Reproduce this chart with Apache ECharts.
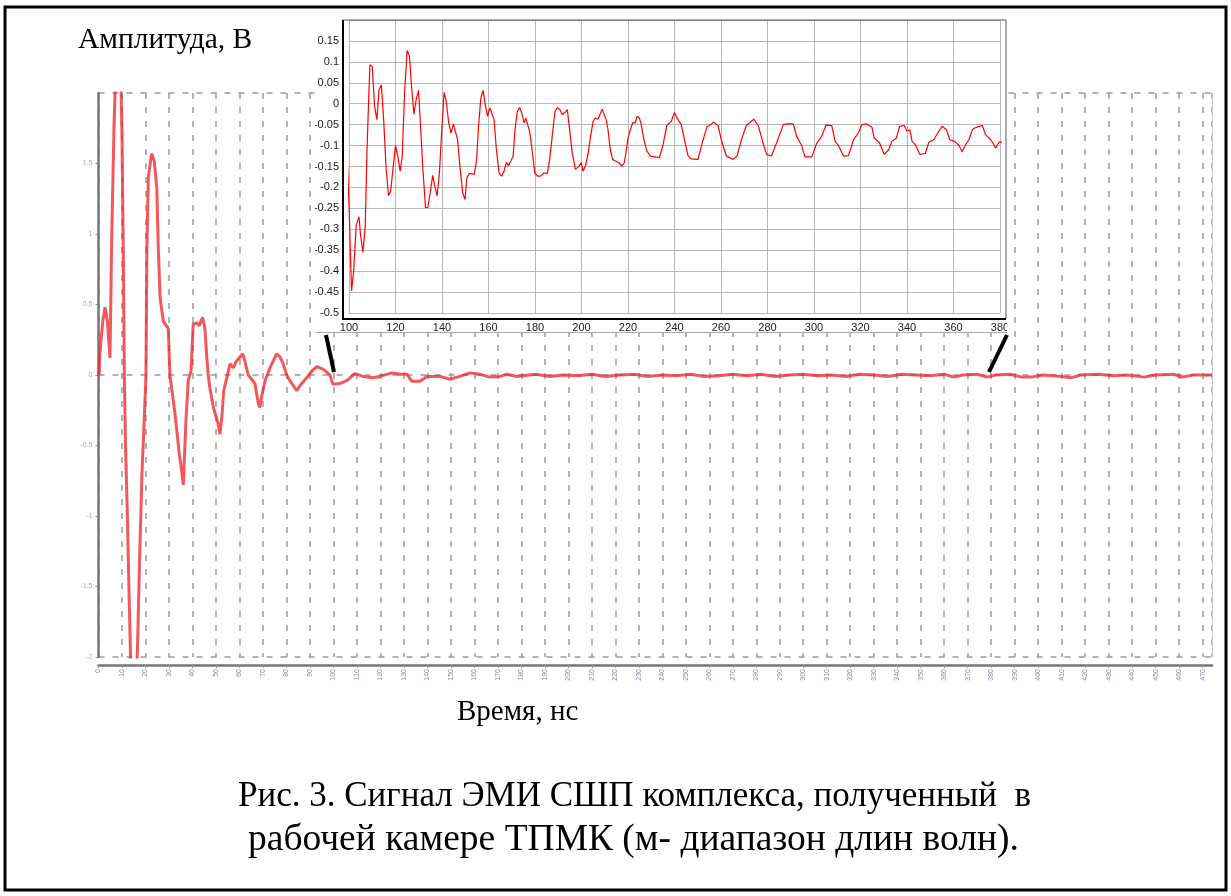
<!DOCTYPE html>
<html style="height:100%;width:100%;">
<head>
  <meta charset="utf-8">
  <title>Сигнал ЭМИ СШП</title>
  <script src="https://cdn.jsdelivr.net/npm/echarts@6.0.0/dist/echarts.min.js"></script>
</head>
<body style="margin:0px;background:#fff;">
  <div id="main" style="position:absolute;left:0;top:0;width:1231px;height:896px;"></div>
  <!-- врезка: увеличенный участок 100..380 нс -->
  <div id="inset" style="position:absolute;left:315px;top:18px;width:692px;height:315px;background:#fff;border-bottom:1px solid #aaa;box-sizing:border-box;"></div>
  <script type="text/javascript">
    // основной сигнал: [время, нс ; амплитуда]
    var mainSignal = [
      [0, 0], [0.3, 0.02], [0.6, 0.15], [1.8, 0.38], [2.8, 0.48], [3.8, 0.38], [4.9, 0.12],
      [5.6, 0.95], [6.6, 1.76], [7.4, 2.2], [8.4, 2.3], [9.4, 2.2], [10.0, 1.7], [10.6, 0.8],
      [11.0, 0], [11.5, -0.5], [12.3, -1.0], [12.8, -1.4], [13.5, -1.9], [14.0, -2.3], [15.5, -2.4],
      [16.3, -2.1], [16.8, -1.8], [17.5, -1.3], [18.5, -0.7], [19.5, -0.3], [20.2, 0], [20.6, 0.9],
      [21.2, 1.4], [22.6, 1.57], [23.7, 1.52], [24.8, 1.33], [25.4, 0.93], [26.2, 0.55], [27.6, 0.38],
      [29.7, 0.33], [30.4, 0], [32.6, -0.28], [34.4, -0.56], [35.4, -0.68], [36.1, -0.78], [37.2, -0.33],
      [38.2, -0.04], [39.4, 0.03], [40.3, 0.36], [41.8, 0.37], [42.9, 0.35], [44.3, 0.41], [45.3, 0.33],
      [46.0, 0.15], [46.7, 0], [47.4, -0.09], [48.9, -0.23], [51.0, -0.35], [51.7, -0.42], [52.6, -0.28],
      [53.3, -0.11], [54.6, -0.02], [56.0, 0.08], [57.4, 0.05], [58.8, 0.1], [61.4, 0.15], [62.3, 0.1],
      [63.7, 0], [66.6, -0.06], [68.0, -0.2], [68.7, -0.23], [69.4, -0.16], [70.9, -0.04], [73.0, 0.05],
      [75.8, 0.15], [77.2, 0.13], [78.6, 0.08], [80.1, 0], [81.5, -0.04], [84.3, -0.11], [86.5, -0.06],
      [88.6, -0.02], [90.9, 0.03], [92.9, 0.06], [95.7, 0.04], [98.5, 0], [99.8, -0.065], [102.8, -0.06],
      [105.7, -0.04], [109.1, 0.01], [112.6, -0.01], [116.8, -0.02], [119.8, -0.01], [124.9, 0.015],
      [128.3, 0.005], [131.3, 0.005], [133.4, -0.045], [136.8, -0.045], [139.8, -0.01], [145.3, -0.01],
      [149.6, -0.03], [153.8, -0.01], [158.1, 0.015], [162.3, 0.005], [166.6, -0.015], [170.9, -0.01],
      [173.8, 0.005], [178, -0.01], [186, 0.005], [192, -0.01], [198, 0], [204, -0.005], [210, 0.005],
      [216, -0.01], [222, 0], [228, 0.005], [234, -0.01], [240, 0], [246, -0.005], [252, 0.005],
      [258, -0.01], [264, -0.005], [270, 0.005], [276, -0.005], [282, 0.005], [288, -0.01], [294, 0],
      [300, 0.005], [306, -0.005], [312, 0], [318, -0.01], [324, 0.005], [330, 0], [336, -0.01],
      [342, 0.005], [348, 0], [354, -0.005], [360, 0.005], [364, -0.015], [368, 0], [374, 0.005],
      [378, -0.015], [382, 0], [388, 0.005], [393, -0.015], [397, -0.015], [402, 0], [410, -0.01],
      [414, -0.02], [418, 0], [426, 0.005], [432, -0.005], [438, 0], [445, -0.015], [450, 0],
      [458, 0.005], [461, -0.015], [466, 0], [474, 0]
    ];

    // врезка: [время, нс ; амплитуда, В]
    var insetSignal = [
      [97.7, 0.03], [98.1, 0.03], [98.9, -0.08], [100, -0.24], [101.1, -0.447], [102, -0.40],
      [103.1, -0.29], [104.3, -0.27], [104.9, -0.31], [106, -0.355], [107, -0.29], [107.7, -0.12],
      [108.4, 0], [109, 0.093], [110, 0.089], [111, -0.006], [112, -0.038], [112.9, 0.033],
      [113.9, 0.045], [114.9, -0.038], [116, -0.157], [117, -0.22], [117.9, -0.209], [118.9, -0.157],
      [120, -0.10], [121, -0.125], [122, -0.161], [122.9, -0.125], [123.9, 0.025], [125, 0.127],
      [126, 0.114], [126.9, 0.041], [127.9, -0.025], [128.9, 0.01], [129.9, 0.032], [130.7, -0.046],
      [131.7, -0.149], [132.9, -0.248], [133.9, -0.248], [134.9, -0.213], [136, -0.171], [137, -0.2],
      [137.9, -0.22], [138.9, -0.165], [139.9, -0.062], [140.9, 0.027], [141.7, 0.01], [142.9, -0.046],
      [143.9, -0.07], [144.9, -0.048], [145.7, -0.05], [146.7, -0.086], [147.7, -0.149], [148.9, -0.213],
      [149.9, -0.229], [150.7, -0.177], [151.7, -0.167], [152.7, -0.167], [153.9, -0.169], [154.9, -0.133],
      [155.7, -0.054], [156.7, 0.013], [157.7, 0.032], [158.6, -0.002], [159.6, -0.03], [160.6, -0.01],
      [161.4, -0.01], [162.4, -0.038], [163.4, -0.11], [164.6, -0.167], [165.7, -0.173], [166.7, -0.161],
      [167.7, -0.14], [168.6, -0.148], [169.6, -0.137], [170.6, -0.125], [171.4, -0.062], [172.4, -0.018],
      [173.4, -0.009], [174.3, -0.022], [175.3, -0.046], [176, -0.034], [176.7, -0.034], [177.7, -0.066],
      [178.9, -0.117], [179.9, -0.165], [181, -0.173], [182.4, -0.173], [183.9, -0.165], [185.3, -0.167],
      [186.3, -0.133], [187.4, -0.078], [188.6, -0.018], [189.6, -0.01], [190.6, -0.013], [191.7, -0.026],
      [192.9, -0.021], [193.9, -0.014], [194.9, -0.062], [196, -0.117], [197.4, -0.157], [198.9, -0.149],
      [199.9, -0.141], [200.6, -0.161], [201.7, -0.149], [202.9, -0.117], [203.9, -0.078], [205, -0.042],
      [206, -0.034], [207.1, -0.037], [207.9, -0.038], [208.9, -0.013], [209.6, -0.014], [210.6, -0.038],
      [211.4, -0.062], [212.4, -0.11], [213.4, -0.133], [214.6, -0.137], [216, -0.141], [217.4, -0.149],
      [218.4, -0.141], [219.1, -0.117], [220, -0.082], [221, -0.062], [222, -0.046], [223.1, -0.046],
      [223.9, -0.03], [224.9, -0.034], [225.7, -0.05], [226.7, -0.082], [228.1, -0.113], [229.6, -0.125],
      [230.4, -0.127], [233.5, -0.129], [235, -0.10], [236.7, -0.052], [238.6, -0.042], [240, -0.021],
      [241, -0.034], [242.9, -0.05], [244.3, -0.086], [245.8, -0.124], [247.2, -0.132], [250.1, -0.133],
      [251.9, -0.094], [254, -0.054], [255.1, -0.052], [256.8, -0.044], [258.7, -0.052], [260.1, -0.086],
      [262.3, -0.125], [265.2, -0.133], [266.9, -0.125], [268.8, -0.086], [270.9, -0.052], [274.1, -0.037],
      [276, -0.052], [278.1, -0.094], [279.6, -0.121], [281.7, -0.125], [283.9, -0.094], [286.8, -0.05],
      [288.5, -0.048], [291.1, -0.048], [292.5, -0.078], [294.7, -0.10], [296.1, -0.127], [299, -0.127],
      [301.2, -0.094], [303.3, -0.078], [305.2, -0.051], [307.6, -0.052], [309.1, -0.09], [310.5, -0.10],
      [312.7, -0.125], [314.8, -0.124], [317, -0.086], [319.1, -0.07], [320.6, -0.05], [322.4, -0.048],
      [324.9, -0.056], [325.9, -0.082], [328.2, -0.094], [330.2, -0.121], [332.1, -0.11], [333.5, -0.09],
      [335.4, -0.082], [336.8, -0.054], [338.8, -0.052], [340, -0.066], [341.2, -0.062], [342.2, -0.09],
      [343.6, -0.098], [345.5, -0.121], [347.9, -0.119], [349.4, -0.092], [351.5, -0.086], [353.2, -0.07],
      [355.1, -0.054], [357, -0.062], [358.4, -0.086], [360.4, -0.09], [362.2, -0.098], [363.7, -0.115],
      [365.2, -0.098], [366.6, -0.086], [368.1, -0.062], [369.1, -0.058], [370.2, -0.056], [372.4, -0.052],
      [373.8, -0.074], [376, -0.086], [377.4, -0.098], [378.1, -0.106], [379.6, -0.092], [381.4, -0.092],
      [382.2, -0.088]
    ];

    var serif = '"Liberation Serif", "DejaVu Serif", serif';
    var sans = '"Liberation Sans", Arial, sans-serif';

    var myChart = echarts.init(document.getElementById('main'));
    var option = {
      animation: false,
      grid: { left: 98.5, right: 19, top: 93, bottom: 239, outerBoundsMode: 'none' },
      xAxis: {
        type: 'value',
        min: 0,
        max: 474,
        interval: 10,
        offset: 8,
        axisLine: { onZero: false, lineStyle: { color: '#777', width: 2.5 } },
        axisTick: { length: 3, lineStyle: { color: '#999' } },
        axisLabel: { rotate: 90, fontSize: 7, color: '#7d8fa6', margin: 4, showMaxLabel: false },
        splitLine: { show: true, lineStyle: { color: '#9a9a9a', width: 1.5, type: [6, 8] } }
      },
      yAxis: [{
        type: 'value',
        min: -2,
        max: 2,
        interval: 0.5,
        axisLine: { show: true, onZero: false, lineStyle: { color: '#777', width: 2.5 } },
        axisTick: { show: true, length: 3, lineStyle: { color: '#888' } },
        axisLabel: { fontSize: 7, color: '#aaa', margin: 6, showMaxLabel: false },
        splitLine: { show: false }
      }, {
        // правая рамка и пунктир на 0 и ±2
        type: 'value',
        position: 'right',
        min: -2,
        max: 2,
        interval: 2,
        axisLine: { show: true, onZero: false, lineStyle: { color: '#ccc', width: 1 } },
        axisTick: { show: false },
        axisLabel: { show: false },
        splitLine: { show: true, lineStyle: { color: '#9a9a9a', width: 1.5, type: [6, 8] } }
      }],
      series: [{
        type: 'line',
        data: mainSignal,
        showSymbol: false,
        lineStyle: { color: 'rgba(240,40,45,0.78)', width: 3 }
      }],
      graphic: [
        { type: 'rect', shape: { x: 5, y: 7, width: 1221, height: 883 }, style: { fill: 'none', stroke: '#000', lineWidth: 3 }, z: 100 },
        { type: 'text', x: 78, y: 40, style: { text: 'Амплитуда, В', fontFamily: serif, fontSize: 29.5, fill: '#000', verticalAlign: 'middle' } },
        { type: 'text', x: 457, y: 712, style: { text: 'Время, нс', fontFamily: serif, fontSize: 29, fill: '#000', verticalAlign: 'middle' } },
        { type: 'text', x: 238, y: 797, style: { text: 'Рис. 3. Сигнал ЭМИ СШП комплекса, полученный  в', fontFamily: serif, fontSize: 35, fill: '#000', verticalAlign: 'middle' } },
        { type: 'text', x: 248, y: 840, style: { text: 'рабочей камере ТПМК (м- диапазон длин волн).', fontFamily: serif, fontSize: 37.5, fill: '#000', verticalAlign: 'middle' } },
        { type: 'line', shape: { x1: 326, y1: 335, x2: 334, y2: 372 }, style: { stroke: '#000', lineWidth: 4 }, z: 100 },
        { type: 'line', shape: { x1: 1007, y1: 335, x2: 989, y2: 372 }, style: { stroke: '#000', lineWidth: 4 }, z: 100 }
      ]
    };
    myChart.setOption(option);

    var insetChart = echarts.init(document.getElementById('inset'));
    var insetOption = {
      animation: false,
      grid: { left: 34, right: 7, top: 2, bottom: 19, outerBoundsMode: 'none' },
      xAxis: {
        type: 'value',
        min: 100,
        max: 380,
        interval: 20,
        offset: 5,
        axisLine: { show: false, onZero: false },
        axisTick: { show: false },
        axisLabel: { fontFamily: sans, fontSize: 11, color: '#222', margin: 4 },
        splitLine: { show: true, lineStyle: { color: '#b8b8b8', width: 1 } }
      },
      yAxis: {
        type: 'value',
        min: -0.5,
        max: 0.2,
        interval: 0.05,
        offset: 6,
        axisLine: { show: false, onZero: false },
        axisTick: { show: false },
        axisLabel: { fontFamily: sans, fontSize: 11, color: '#222', margin: 4, showMaxLabel: false },
        splitLine: { show: true, lineStyle: { color: '#b8b8b8', width: 1 } }
      },
      series: [{
        type: 'line',
        data: insetSignal,
        showSymbol: false,
        clip: false,
        lineStyle: { color: '#ff0000', width: 1.2 }
      }],
      graphic: [
        // рамка области построения врезки
        { type: 'rect', shape: { x: 28, y: 2, width: 663, height: 299 }, style: { fill: 'none', stroke: '#555', lineWidth: 1 }, z: 100 },
        { type: 'polyline', shape: { points: [[28, 2], [28, 301], [691, 301]] }, style: { fill: 'none', stroke: '#000', lineWidth: 2 }, z: 101 }
      ]
    };
    insetChart.setOption(insetOption);
  </script>
</body>
</html>
